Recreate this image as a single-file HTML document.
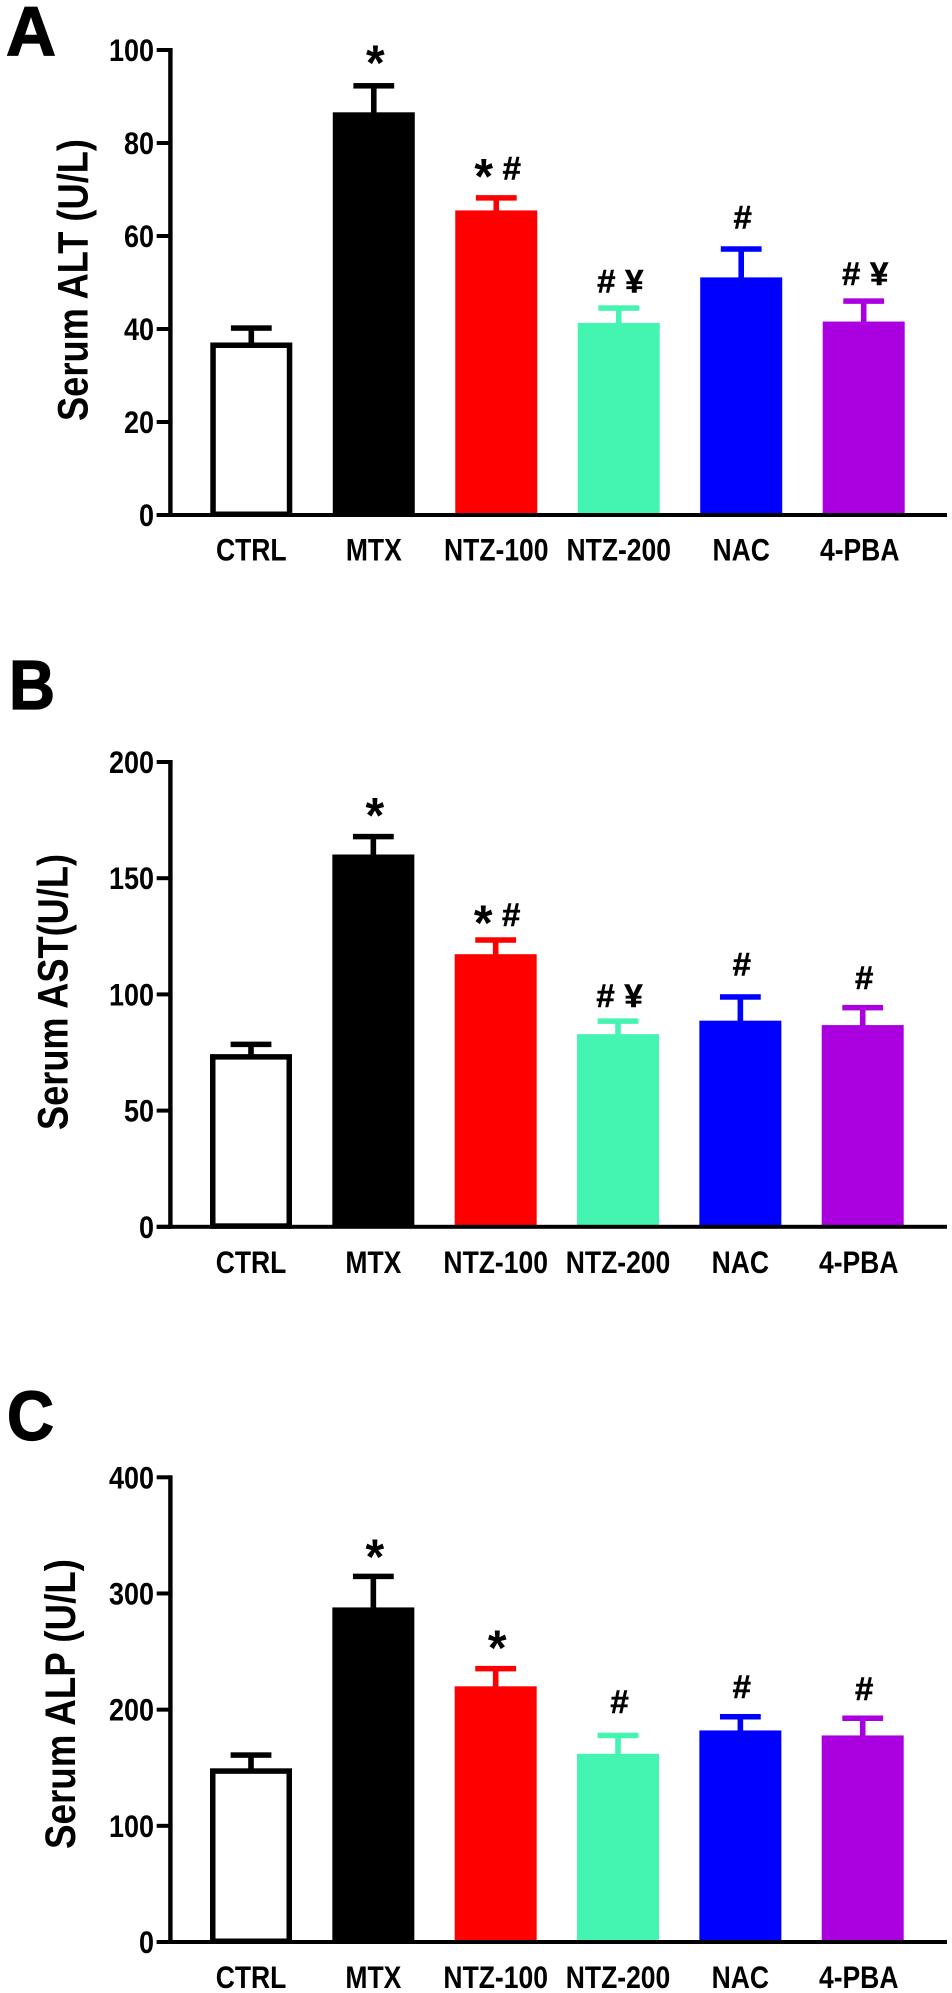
<!DOCTYPE html>
<html lang="en">
<head>
<meta charset="utf-8">
<title>Serum ALT, AST and ALP by treatment group</title>
<style>
html,body{margin:0;padding:0;background:#fff;}
body{width:952px;height:1993px;overflow:hidden;}
svg{display:block;}
text{font-family:"Liberation Sans",Arial,sans-serif;font-weight:700;fill:#000;}
</style>
</head>
<body>
<svg id="figure" xmlns="http://www.w3.org/2000/svg" width="952" height="1993" viewBox="0 0 952 1993"></svg>
<script>
const categories = ["CTRL", "MTX", "NTZ-100", "NTZ-200", "NAC", "4-PBA"];
const barColors = ["#ffffff", "#000000", "#ff0000", "#43f5b0", "#0000ff", "#aa00e0"];

const ticksA = [0, 20, 40, 60, 80, 100];
const valuesA = [37.1, 86.6, 65.5, 41.3, 51.1, 41.6];
const errorsA = [3.1, 5.7, 2.7, 3.2, 6.1, 4.4];
const marksA = [[], ["*"], ["*", "#"], ["#", "¥"], ["#"], ["#", "¥"]];
const markLiftA = [0, 4.3, 3.9, 3.3, 4.4, 3.5];

const ticksB = [0, 50, 100, 150, 200];
const valuesB = [74.3, 160.2, 117.3, 82.9, 88.7, 86.8];
const errorsB = [4.2, 7.7, 6.1, 5.6, 10.2, 7.5];
const marksB = [[], ["*"], ["*", "#"], ["#", "¥"], ["#"], ["#"]];
const markLiftB = [0, 7.7, 6.1, 6.1, 9.3, 8.1];

const ticksC = [0, 100, 200, 300, 400];
const valuesC = [149.5, 288, 220.1, 162, 182.1, 177.8];
const errorsC = [11.4, 26.7, 15.2, 15.8, 11.8, 14.8];
const marksC = [[], ["*"], ["*"], ["#"], ["#"], ["#"]];
const markLiftC = [0, 14.1, 15.1, 19.2, 16.1, 15.8];

const panels = [
  {id: "a", letter: "A", letterX: 6, letterY: 55.5, letterW: 50, title: "Serum ALT (U/L)", titleX: 87.5, titleBottom: 421, titleLen: 282,
   top: 50, bottom: 515, first: 251.3, pitch: 122.48, labelY: 560.6,
   ticks: ticksA, values: valuesA, errors: errorsA, marks: marksA, lift: markLiftA},
  {id: "b", letter: "B", letterX: 9, letterY: 709, letterW: 46, title: "Serum AST(U/L)", titleX: 67.5, titleBottom: 1130, titleLen: 276,
   top: 762, bottom: 1226.8, first: 251, pitch: 122.34, labelY: 1273.2,
   ticks: ticksB, values: valuesB, errors: errorsB, marks: marksB, lift: markLiftB},
  {id: "c", letter: "C", letterX: 7, letterY: 1440, letterW: 47, title: "Serum ALP (U/L)", titleX: 75, titleBottom: 1849, titleLen: 290,
   top: 1477.3, bottom: 1942, first: 251, pitch: 122.34, labelY: 1988,
   ticks: ticksC, values: valuesC, errors: errorsC, marks: marksC, lift: markLiftC}
];

const NS = "http://www.w3.org/2000/svg";
const fig = document.getElementById("figure");

function make(tag, attrs, parent, content) {
  const el = document.createElementNS(NS, tag);
  for (const k in attrs) el.setAttribute(k, attrs[k]);
  if (content !== undefined) el.textContent = content;
  parent.appendChild(el);
  return el;
}

panels.forEach(function (p) {
  const maxV = p.ticks[p.ticks.length - 1];
  const yScale = function (v) { return p.bottom - (v / maxV) * (p.bottom - p.top); };
  const xScale = function (i) { return p.first + i * p.pitch; };
  const unit = (p.bottom - p.top) / maxV;

  const g = make("g", {}, fig);
  
  

  const letter = make("text", {x: 0, y: 0, "font-size": 62, textLength: p.letterW, lengthAdjust: "spacingAndGlyphs", stroke: "#000", "stroke-width": 1.2, transform: "translate(" + p.letterX + "," + p.letterY + ") scale(1,1.12)"}, g, p.letter);
  
  

  const title = make("text", {x: 0, y: 0, "font-size": 43, textLength: p.titleLen, lengthAdjust: "spacingAndGlyphs", transform: "translate(" + p.titleX + "," + p.titleBottom + ") rotate(-90)"}, g, p.title);
  
  

  p.values.forEach(function (v, i) {
    const cx = xScale(i);
    const halfW = 41;
    const yTop = yScale(v);
    const yCap = yScale(v + p.errors[i]);
    const color = barColors[i];
    const lineColor = i === 0 ? "#000000" : color;

    const stem = make("rect", {x: cx - 2.8, y: yCap, width: 5.6, height: yTop - yCap + 1, fill: lineColor}, g);
    
    

    const cap = make("rect", {x: cx - 20.4, y: yCap - 2.75, width: 40.8, height: 5.5, fill: lineColor}, g);
    
    

    let bar;
    if (i === 0) {
      bar = make("rect", {x: cx - halfW + 2.75, y: yTop + 2.75, width: 2 * halfW - 5.5, height: p.bottom - yTop - 3.5, fill: "#ffffff", stroke: "#000000", "stroke-width": 5.5}, g);
    } else {
      bar = make("rect", {x: cx - halfW, y: yTop, width: 2 * halfW, height: p.bottom - yTop, fill: color}, g);
    }
    
    

    const labelShift = i === 5 ? -4 : 0;
    const label = make("text", {x: 0, y: 0, "font-size": 26.5, "text-anchor": "middle", transform: "translate(" + (cx + labelShift) + "," + p.labelY + ") scale(1,1.18)"}, g, categories[i]);
    
    

    const glyphs = p.marks[i];
    const bottomY = yCap - p.lift[i] * unit;
    glyphs.forEach(function (m, j) {
      const mx = cx + 1.5 + (glyphs.length === 2 ? (j === 0 ? -14 : 14) : 0);
      const isStar = m === "*";
      const baseY = isStar ? bottomY + 14 : bottomY;
      const size = isStar ? 48 : 30;
      const sx = isStar ? 1 : 1.1;
      const sy = isStar ? 1.05 : 1.08;
      const mark = make("text", {x: 0, y: 0, "font-size": size, "text-anchor": "middle", stroke: "#000", "stroke-width": isStar ? 0 : 0.5, transform: "translate(" + mx + "," + baseY + ") scale(" + sx + "," + sy + ")"}, g, m);
      
      
    });
  });

  const xAxis = make("rect", {x: 156.7, y: p.bottom - 2, width: 790.3, height: 4, fill: "#000"}, g);
  
  

  const yAxis = make("rect", {x: 168.2, y: p.top - 2, width: 4.4, height: p.bottom - p.top + 4, fill: "#000"}, g);
  
  

  p.ticks.forEach(function (t) {
    const ty = yScale(t);
    const tick = make("rect", {x: 156.7, y: ty - 2, width: 13, height: 4, fill: "#000"}, g);
    
    

    const tickLabel = make("text", {x: 0, y: 0, "font-size": 27, "text-anchor": "end", transform: "translate(154," + (ty + 11) + ") scale(1,1.17)"}, g, String(t));
    
    
  });
});
</script>
</body>
</html>
